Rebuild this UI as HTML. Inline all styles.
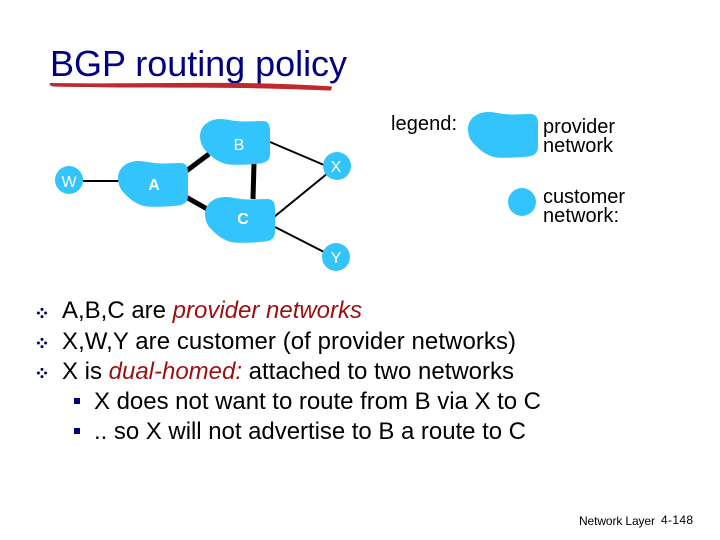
<!DOCTYPE html>
<html>
<head>
<meta charset="utf-8">
<style>
html,body{margin:0;padding:0;background:#fff;width:720px;height:540px;overflow:hidden}
svg{display:block}
text{font-family:"Liberation Sans",sans-serif}
</style>
</head>
<body>
<svg width="720" height="540" viewBox="0 0 720 540" xmlns="http://www.w3.org/2000/svg">
<defs>
<g id="dia" fill="#000066">
<circle cx="0" cy="-3.6" r="1.5"/>
<circle cx="0" cy="3.6" r="1.5"/>
<circle cx="-3.6" cy="0" r="1.5"/>
<circle cx="3.6" cy="0" r="1.5"/>
</g>
<path id="blob" d="M0 17 C0 7 9 0 20 0 C28 0 33 2.5 45 2.5 L62 2 C68 2 70 5 70 12 L70 35 C70 41 66 44 60 44.5 C46 46 36 46 29 45.5 C18 44 11 37 6 32 C2 28 0 23 0 17 Z"/>
</defs>

<text x="50" y="76" font-size="36" fill="#000080" textLength="297" lengthAdjust="spacing">BGP routing policy</text>
<path d="M50 83 C120 84 180 82.5 240 83 C280 83.5 310 85 332 86.5 L331 90.5 C300 89.5 280 88.5 240 88 C180 87.5 110 88 53 86.5 C50 86 49 84 50 83 Z" fill="#c0282c"/>

<g stroke="#000" fill="none" stroke-linecap="butt">
<line x1="83" y1="181" x2="120" y2="181" stroke-width="2"/>
<line x1="185" y1="172" x2="209" y2="154" stroke-width="5"/>
<line x1="186" y1="197" x2="209" y2="210" stroke-width="5"/>
<line x1="254" y1="163" x2="253" y2="199" stroke-width="5"/>
<line x1="270" y1="142" x2="324" y2="165" stroke-width="2"/>
<line x1="274" y1="217" x2="328" y2="173" stroke-width="2"/>
<line x1="275" y1="227" x2="324" y2="252" stroke-width="2"/>
</g>

<g fill="#33c4fd">
<use href="#blob" x="200" y="119"/>
<use href="#blob" x="118" y="161"/>
<use href="#blob" x="205" y="197"/>
<use href="#blob" x="468" y="112"/>
<circle cx="69" cy="180" r="14"/>
<circle cx="337" cy="166" r="14"/>
<circle cx="336" cy="257" r="14"/>
<circle cx="522" cy="202" r="14"/>
</g>

<g fill="#fff" font-size="16" text-anchor="middle">
<text x="239" y="150">B</text>
<text x="154" y="190" font-weight="bold">A</text>
<text x="243" y="224" font-weight="bold">C</text>
<text x="69" y="187">W</text>
<text x="336" y="172">X</text>
<text x="336" y="263">Y</text>
</g>

<g fill="#000" font-size="20">
<text x="391" y="130" textLength="66" lengthAdjust="spacing">legend:</text>
<text x="543" y="133" textLength="72" lengthAdjust="spacing">provider</text>
<text x="543" y="152" textLength="70" lengthAdjust="spacing">network</text>
<text x="543" y="203" textLength="82" lengthAdjust="spacing">customer</text>
<text x="543" y="222" textLength="76" lengthAdjust="spacing">network:</text>
</g>

<use href="#dia" x="42" y="313"/>
<use href="#dia" x="42" y="343"/>
<use href="#dia" x="42" y="373"/>

<g font-size="24" fill="#000">
<text x="62" y="318" textLength="300" lengthAdjust="spacing">A,B,C are <tspan fill="#9c1010" font-style="italic">provider networks</tspan></text>
<text x="62" y="349" textLength="454" lengthAdjust="spacing">X,W,Y are customer (of provider networks)</text>
<text x="62" y="379" textLength="452" lengthAdjust="spacing">X is <tspan fill="#9c1010" font-style="italic">dual-homed:</tspan> attached to two networks</text>
<text x="94" y="409" textLength="447" lengthAdjust="spacing">X does not want to route from B via X to C</text>
<text x="94" y="439" textLength="432" lengthAdjust="spacing">.. so X will not advertise to B a route to C</text>
</g>
<rect x="74" y="398" width="6" height="6" fill="#000080"/>
<rect x="74" y="428" width="6" height="6" fill="#000080"/>

<g font-size="12" fill="#000">
<text x="579" y="525" textLength="76" lengthAdjust="spacing">Network Layer</text>
<text x="661" y="524" textLength="32" lengthAdjust="spacing">4-148</text>
</g>
</svg>
</body>
</html>
